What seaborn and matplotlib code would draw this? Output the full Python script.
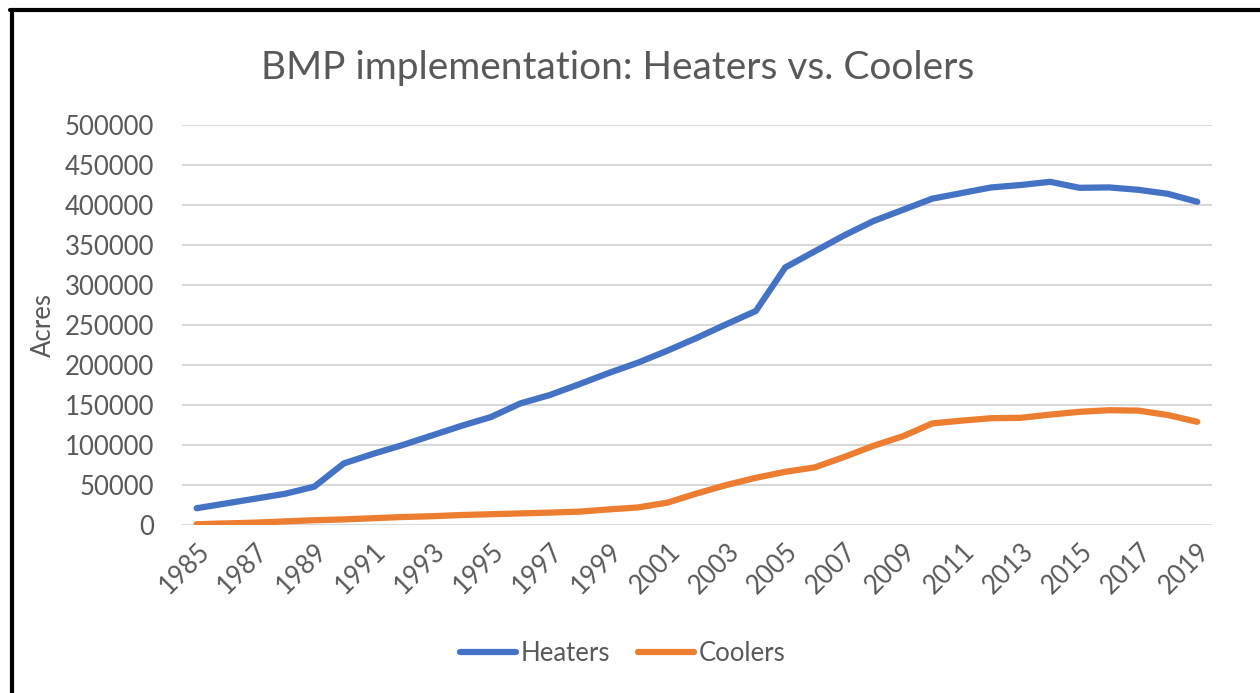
import matplotlib
matplotlib.use("Agg")
import matplotlib.pyplot as plt
from matplotlib.lines import Line2D
import pandas as pd
import seaborn as sns

# data
years = [1985, 1986, 1987, 1988, 1989, 1990, 1991, 1992, 1993, 1994,
         1995, 1996, 1997, 1998, 1999, 2000, 2001, 2002, 2003, 2004,
         2005, 2006, 2007, 2008, 2009, 2010, 2011, 2012, 2013, 2014,
         2015, 2016, 2017, 2018, 2019]
heaters = [21000, 27000, 33000, 39000, 48000, 77000, 89000, 100000, 112000, 124000,
           135000, 152000, 162500, 176000, 190000, 203000, 218000, 234000, 251000, 267500,
           322000, 342000, 362000, 380000, 394000, 408000, 415000, 422000, 425000, 429000,
           421500, 422000, 419000, 414000, 404000]
coolers = [1000, 2000, 3000, 4500, 6000, 7000, 8500, 10000, 11000, 12500,
           13500, 14500, 15500, 16700, 19500, 22000, 28000, 39500, 50000, 59000,
           66500, 72000, 85000, 99000, 111000, 127000, 130500, 133500, 134000, 138000,
           141500, 143500, 143000, 137500, 129000]
y_ticks = [0, 50000, 100000, 150000, 200000, 250000, 300000, 350000, 400000, 450000, 500000]
x_ticks = years[::2]

df = pd.DataFrame({"Year": years + years,
                   "Acres": heaters + coolers,
                   "Series": ["Heaters"] * len(years) + ["Coolers"] * len(years)})

sns.set_style("white")
plt.rcParams["font.family"] = ["Lato", "DejaVu Sans"]
grey = "#595959"

fig = plt.figure(figsize=(12.6, 6.93), dpi=100)
ax = fig.add_axes([0.1444, 0.2424, 0.8175, 0.5772])

sns.lineplot(data=df, x="Year", y="Acres", hue="Series",
             palette={"Heaters": "#4472C4", "Coolers": "#ED7D31"},
             linewidth=4.5, legend=False, ax=ax)

ax.set_xlim(1984.5, 2019.5)
ax.set_ylim(0, 500000)
ax.set_yticks(y_ticks)
ax.set_yticklabels([str(v) for v in y_ticks], fontsize=18.5, color=grey)
ax.set_xticks(x_ticks)
ax.set_xticklabels([str(v) for v in x_ticks], fontsize=18.5, color=grey,
                   rotation=45, ha="right", rotation_mode="anchor")
ax.tick_params(axis="x", length=0, pad=10)
ax.tick_params(axis="y", length=0, pad=20)
ax.yaxis.grid(True, color="#D9D9D9", linewidth=1.5)
ax.set_axisbelow(True)
for s in ax.spines.values():
    s.set_visible(False)

ax.set_xlabel("")
ax.set_ylabel("Acres", fontsize=18.5, color=grey, labelpad=6)
fig.text(0.49, 0.902, "BMP implementation: Heaters vs. Coolers",
         fontsize=28, color=grey, ha="center", va="center")

handles = [Line2D([0], [0], color="#4472C4", lw=4.5, solid_capstyle="round"),
           Line2D([0], [0], color="#ED7D31", lw=4.5, solid_capstyle="round")]
fig.legend(handles, ["Heaters", "Coolers"], loc="center", bbox_to_anchor=(0.494, 0.057),
           ncol=2, frameon=False, fontsize=18.5, labelcolor=grey,
           handlelength=2.2, handletextpad=0.15, columnspacing=1.1)

# black frame on the left and top, as in the screenshot
fig.add_artist(Line2D([0.0095, 0.0095], [0, 0.986], color="black", lw=3,
                      transform=fig.transFigure))
fig.add_artist(Line2D([0.008, 1], [0.986, 0.986], color="black", lw=3,
                      transform=fig.transFigure))

fig.savefig("out.png", dpi=100)
